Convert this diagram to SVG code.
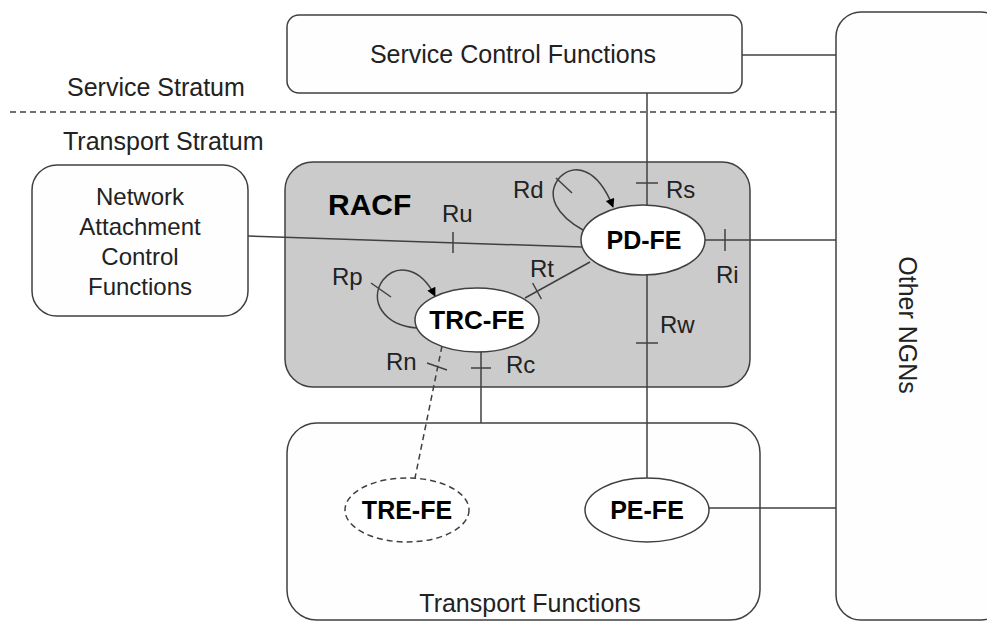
<svg xmlns="http://www.w3.org/2000/svg" width="987" height="622" viewBox="0 0 987 622">
<defs>
<style>
.box{fill:#fefefe;stroke:#404040;stroke-width:1.5}
.racf{fill:#cbcbcb;stroke:#404040;stroke-width:1.5}
.ell{fill:#ffffff;stroke:#404040;stroke-width:1.5}
.ln{fill:none;stroke:#404040;stroke-width:1.5}
.dash{fill:none;stroke:#404040;stroke-width:1.5;stroke-dasharray:6,4}
.t{font-family:"Liberation Sans",Arial,sans-serif;font-size:24px;fill:#222}
.L{font-size:25px}
.b{font-family:"Liberation Sans",Arial,sans-serif;font-size:25px;font-weight:bold;fill:#000;text-anchor:middle}
.m{text-anchor:middle}
</style>
<marker id="arr" viewBox="0 0 10 10" refX="9" refY="5" markerWidth="10" markerHeight="9" orient="auto" markerUnits="userSpaceOnUse">
<path d="M0,0 L10,5 L0,10 z" fill="#000"/>
</marker>
</defs>
<rect width="987" height="622" fill="#ffffff"/>

<g id="strata">
<text class="t L" x="67" y="96">Service Stratum</text>
<line class="dash" x1="10" y1="112" x2="836" y2="112"/>
<text class="t L" x="63" y="150">Transport Stratum</text>
</g>

<g id="scf">
<rect class="box" x="287" y="15" width="455" height="78" rx="12"/>
<text class="t L m" x="513" y="63">Service Control Functions</text>
</g>

<g id="ngn">
<rect class="box" x="836" y="12" width="170" height="608" rx="25"/>
<text class="t L m" transform="translate(899,325) rotate(90)">Other NGNs</text>
</g>

<g id="nacf">
<rect class="box" x="32" y="165" width="216" height="151" rx="25"/>
<text class="t m" x="140" y="205">Network</text>
<text class="t m" x="140" y="235">Attachment</text>
<text class="t m" x="140" y="265">Control</text>
<text class="t m" x="140" y="295">Functions</text>
</g>

<g id="racf">
<rect class="racf" x="285" y="162" width="465" height="225" rx="28"/>
<text x="328" y="215" style="font-family:'Liberation Sans',Arial,sans-serif;font-size:30px;font-weight:bold;fill:#000">RACF</text>
</g>

<g id="tf">
<rect class="box" x="287" y="423" width="473" height="197" rx="30"/>
<text class="t L m" x="530" y="612">Transport Functions</text>
</g>

<g id="connectors">
<line class="ln" x1="742" y1="55" x2="836" y2="55"/>
<line class="ln" x1="647" y1="93" x2="647" y2="205"/>
<line class="ln" x1="636" y1="183" x2="658" y2="183"/>
<line class="ln" x1="248" y1="236" x2="582" y2="247"/>
<line class="ln" x1="453" y1="232" x2="453" y2="253"/>
<line class="ln" x1="705" y1="240" x2="836" y2="240"/>
<line class="ln" x1="725" y1="229" x2="725" y2="251"/>
<line class="ln" x1="590" y1="262" x2="525" y2="298"/>
<line class="ln" x1="532.6" y1="283" x2="541.4" y2="299"/>
<path class="ln" d="M583,230 C558,216 544,196 560,177 C573,164 597,166 613,207" marker-end="url(#arr)"/>
<line class="ln" x1="556" y1="178" x2="572" y2="193"/>
<path class="ln" d="M417,328 C384,326 368,300 383,280 C396,264 420,266 435,296" marker-end="url(#arr)"/>
<line class="ln" x1="371" y1="283" x2="391" y2="297"/>
<line class="dash" x1="442" y1="346" x2="415" y2="478"/>
<line class="ln" x1="427" y1="363" x2="447" y2="370"/>
<line class="ln" x1="481" y1="352" x2="481" y2="423"/>
<line class="ln" x1="471" y1="368" x2="491" y2="368"/>
<line class="ln" x1="647" y1="275" x2="647" y2="478"/>
<line class="ln" x1="636" y1="343" x2="658" y2="343"/>
<line class="ln" x1="709" y1="508" x2="836" y2="508"/>
</g>

<g id="labels">
<text class="t" x="513" y="198">Rd</text>
<text class="t" x="666" y="198">Rs</text>
<text class="t" x="442" y="222">Ru</text>
<text class="t" x="716" y="283">Ri</text>
<text class="t" x="530" y="277">Rt</text>
<text class="t" x="332" y="285">Rp</text>
<text class="t" x="660" y="333">Rw</text>
<text class="t" x="386" y="370">Rn</text>
<text class="t" x="506" y="373">Rc</text>
</g>

<g id="pd-fe">
<ellipse class="ell" cx="643" cy="240" rx="62" ry="35"/>
<text class="b" x="644" y="249">PD-FE</text>
</g>
<g id="trc-fe">
<ellipse class="ell" cx="477" cy="320" rx="62" ry="32"/>
<text class="b" x="477" y="329" style="font-size:26px">TRC-FE</text>
</g>
<g id="tre-fe">
<ellipse class="ell" cx="407" cy="510" rx="62" ry="32" style="stroke-dasharray:6,4"/>
<text class="b" x="407" y="519">TRE-FE</text>
</g>
<g id="pe-fe">
<ellipse class="ell" cx="647" cy="510" rx="62" ry="32"/>
<text class="b" x="647" y="519">PE-FE</text>
</g>
</svg>
